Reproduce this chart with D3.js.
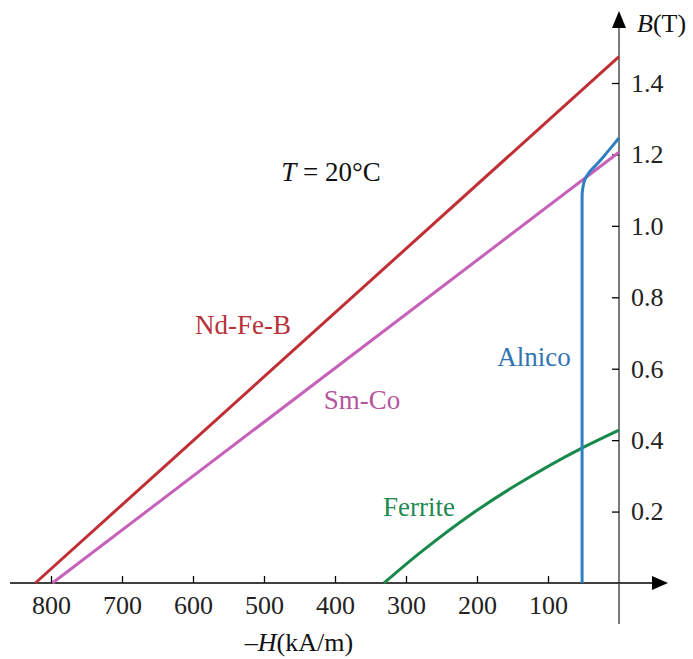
<!DOCTYPE html>
<html>
<head>
<meta charset="utf-8">
<script src="https://cdn.jsdelivr.net/npm/d3@7"></script>
<style>
body { margin: 0; background: #fff; }
svg text { font-family: "Liberation Serif", "Times New Roman", serif; }
</style>
</head>
<body>
<svg id="chart" width="693" height="659"></svg>
<script>
// tick values
xTicks = [800, 700, 600, 500, 400, 300, 200, 100];
yTicks = [0.2, 0.4, 0.6, 0.8, 1.0, 1.2, 1.4];

// demagnetization curves, -H in kA/m and B in T
ndH = [822, 0];
ndB = [0, 1.474];
smH = [798, 0];
smB = [0, 1.206];
alH = [52, 52, 51, 48, 42, 30, 15, 0];
alB = [0, 1.08, 1.105, 1.13, 1.15, 1.175, 1.21, 1.246];
feH = [331, 280, 210, 140, 55, 0];
feB = [0, 0.085, 0.19, 0.28, 0.375, 0.428];

svg = d3.select("#chart");

xScale = d3.scaleLinear()
.domain([0, 800])
.range([619, 51]);

yScale = d3.scaleLinear()
.domain([0, 1.4])
.range([583, 83]);

//Axis lines with arrow heads
svg.append("line")
.attr("x1", 10).attr("x2", 655)
.attr("y1", yScale(0)).attr("y2", yScale(0))
.attr("stroke", "#000").attr("stroke-width", 1.6);
svg.append("path")
.attr("d", "M668," + yScale(0) + "L652," + (yScale(0) - 7) + "L652," + (yScale(0) + 7) + "Z")
.attr("fill", "#000");

svg.append("line")
.attr("x1", xScale(0)).attr("x2", xScale(0))
.attr("y1", 24).attr("y2", 624)
.attr("stroke", "#333").attr("stroke-width", 1.3);
svg.append("path")
.attr("d", "M" + xScale(0) + ",11L" + (xScale(0) - 7) + ",28L" + (xScale(0) + 7) + ",28Z")
.attr("fill", "#000");

//Bottom axis, ticks pointing up
baxis = d3.axisBottom(xScale)
.tickValues(xTicks)
.tickSize(-7)
.tickPadding(13);

gx = svg.append("g")
.attr("transform", "translate(0," + yScale(0) + ")")
.call(baxis);
gx.select(".domain").remove();
gx.selectAll("line").attr("stroke", "#000").attr("stroke-width", 1.3);
gx.selectAll("text").attr("font-size", 26).attr("fill", "#222")
.attr("font-family", "Liberation Serif");

//Right side labels, ticks pointing left
raxis = d3.axisRight(yScale)
.tickValues(yTicks)
.tickSize(-7)
.tickPadding(12)
.tickFormat(d3.format(".1f"));

gy = svg.append("g")
.attr("transform", "translate(" + xScale(0) + ",0)")
.call(raxis);
gy.select(".domain").remove();
gy.selectAll("line").attr("stroke", "#000").attr("stroke-width", 1.3);
gy.selectAll("text").attr("font-size", 26).attr("fill", "#222")
.attr("font-family", "Liberation Serif");

//curves
function curve(hs, bs, color, crv) {
    pts = hs.map(function (h, i) { return [h, bs[i]]; });
    myLine = d3.line()
    .x(function (d) { return xScale(d[0]); })
    .y(function (d) { return yScale(d[1]); })
    .curve(crv || d3.curveLinear);
    svg.append("path")
    .attr("d", myLine(pts))
    .attr("fill", "none")
    .attr("stroke", color)
    .attr("stroke-width", 3);
}

curve(ndH, ndB, "#bf2f35");
curve(smH, smB, "#c561b9");
curve(feH, feB, "#19894a", d3.curveMonotoneY);
curve(alH, alB, "#2f7fc3", d3.curveMonotoneY);

//labels
function label(x, y, txt, color) {
    svg.append("text")
    .attr("x", x).attr("y", y)
    .attr("text-anchor", "middle")
    .attr("font-size", 27)
    .attr("fill", color)
    .text(txt);
}
label(243, 334, "Nd-Fe-B", "#b8323a");
label(362, 409, "Sm-Co", "#b6559f");
label(534, 366, "Alnico", "#2f74b5");
label(419, 516, "Ferrite", "#1f8a4f");

t = svg.append("text")
.attr("x", 331).attr("y", 181)
.attr("text-anchor", "middle")
.attr("font-size", 27)
.attr("fill", "#111");
t.append("tspan").attr("font-style", "italic").text("T");
t.append("tspan").text(" = 20°C");

b = svg.append("text")
.attr("x", 637).attr("y", 32)
.attr("font-size", 26)
.attr("fill", "#111");
b.append("tspan").attr("font-style", "italic").text("B");
b.append("tspan").text("(T)");

h = svg.append("text")
.attr("x", 299).attr("y", 651)
.attr("text-anchor", "middle")
.attr("font-size", 26)
.attr("fill", "#111");
h.append("tspan").text("–");
h.append("tspan").attr("font-style", "italic").text("H");
h.append("tspan").text("(kA/m)");
</script>
</body>
</html>
